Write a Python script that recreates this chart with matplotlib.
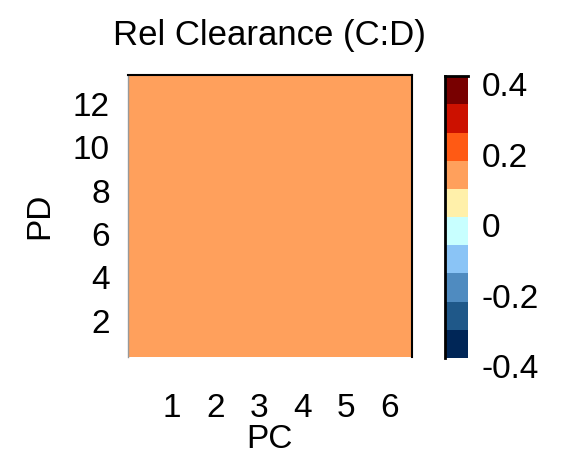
import matplotlib
matplotlib.use('Agg')
import matplotlib.pyplot as plt
from matplotlib.colors import ListedColormap, BoundaryNorm
from matplotlib.lines import Line2D
import matplotlib.transforms as mtransforms
import numpy as np

# Relative clearance, C:D ratio, per PD (rows) and PC (columns)
pc_values = [1, 2, 3, 4, 5, 6]
pd_values = list(range(1, 14))
rel_clearance = [
    [0.12, 0.12, 0.12, 0.12, 0.12, 0.12],
    [0.12, 0.12, 0.12, 0.12, 0.12, 0.12],
    [0.12, 0.12, 0.12, 0.12, 0.12, 0.12],
    [0.12, 0.12, 0.12, 0.12, 0.12, 0.12],
    [0.12, 0.12, 0.12, 0.12, 0.12, 0.12],
    [0.12, 0.12, 0.12, 0.12, 0.12, 0.12],
    [0.12, 0.12, 0.12, 0.12, 0.12, 0.12],
    [0.12, 0.12, 0.12, 0.12, 0.12, 0.12],
    [0.12, 0.12, 0.12, 0.12, 0.12, 0.12],
    [0.12, 0.12, 0.12, 0.12, 0.12, 0.12],
    [0.12, 0.12, 0.12, 0.12, 0.12, 0.12],
    [0.12, 0.12, 0.12, 0.12, 0.12, 0.12],
    [0.12, 0.12, 0.12, 0.12, 0.12, 0.12],
]
level_bounds = [-0.4, -0.32, -0.24, -0.16, -0.08, 0.0, 0.08, 0.16, 0.24, 0.32, 0.4]
level_colors = ['#002657', '#1f5889', '#4f8bc0', '#8ac4f6', '#c8ffff',
                '#fff0aa', '#ffa05c', '#ff5a14', '#cc1100', '#780000']
cbar_ticks = [-0.4, -0.2, 0, 0.2, 0.4]
cbar_labels = ['-0.4', '-0.2', '0', '0.2', '0.4']

plt.rcParams['font.family'] = ['Liberation Sans', 'DejaVu Sans']

fig = plt.figure(figsize=(5.71, 4.59), dpi=100)
ax = fig.add_axes([0.224, 0.222, 0.497, 0.614])
cax = fig.add_axes([0.779, 0.220, 0.040, 0.614])

cmap = ListedColormap(level_colors)
norm = BoundaryNorm(level_bounds, cmap.N)

data = np.array(rel_clearance)
im = ax.imshow(data, cmap=cmap, norm=norm, origin='lower', aspect='auto',
               interpolation='nearest',
               extent=(0, pc_values[-1] + 0.5, pd_values[0] - 0.5, pd_values[-1] + 0.5))
ax.set_xlim(0, pc_values[-1] + 0.5)
ax.set_ylim(pd_values[0] - 0.5, pd_values[-1] + 0.5)

ax.set_xticks(pc_values)
ax.set_yticks([2, 4, 6, 8, 10, 12])
ax.tick_params(axis='both', length=0, labelsize=24)
ax.tick_params(axis='x', pad=26)
ax.tick_params(axis='y', pad=13)

for side in ['top', 'right']:
    ax.spines[side].set_color('black')
    ax.spines[side].set_linewidth(1.5)
ax.spines['left'].set_color('#999999')
ax.spines['left'].set_linewidth(1.0)
ax.spines['bottom'].set_visible(False)

ax.set_title('Rel Clearance (C:D)', fontsize=25, pad=22)
ax.set_xlabel('PC', fontsize=24, labelpad=0)
ax.set_ylabel('PD', fontsize=24, labelpad=13)

# PD labels ride a little above their rows
lift = mtransforms.ScaledTranslation(0, 4 / 100, fig.dpi_scale_trans)
for tick in ax.yaxis.get_major_ticks():
    tick.label1.set_transform(tick.label1.get_transform() + lift)

cbar = fig.colorbar(im, cax=cax, ticks=cbar_ticks)
cbar.ax.set_yticklabels(cbar_labels)
cax.minorticks_off()
cax.tick_params(which='both', length=0, labelsize=24, pad=10)
cbar.outline.set_visible(False)
cax.add_line(Line2D([0, 0], [0, 1], transform=cax.transAxes, color='black',
                    linewidth=2, clip_on=False))
cax.add_line(Line2D([0, 1], [1, 1], transform=cax.transAxes, color='black',
                    linewidth=2, clip_on=False))

# colorbar labels sit slightly below their levels
shift = mtransforms.ScaledTranslation(0, -8 / 100, fig.dpi_scale_trans)
for tick in cax.yaxis.get_major_ticks():
    tick.label2.set_transform(tick.label2.get_transform() + shift)

fig.savefig('out.png', dpi=100)
